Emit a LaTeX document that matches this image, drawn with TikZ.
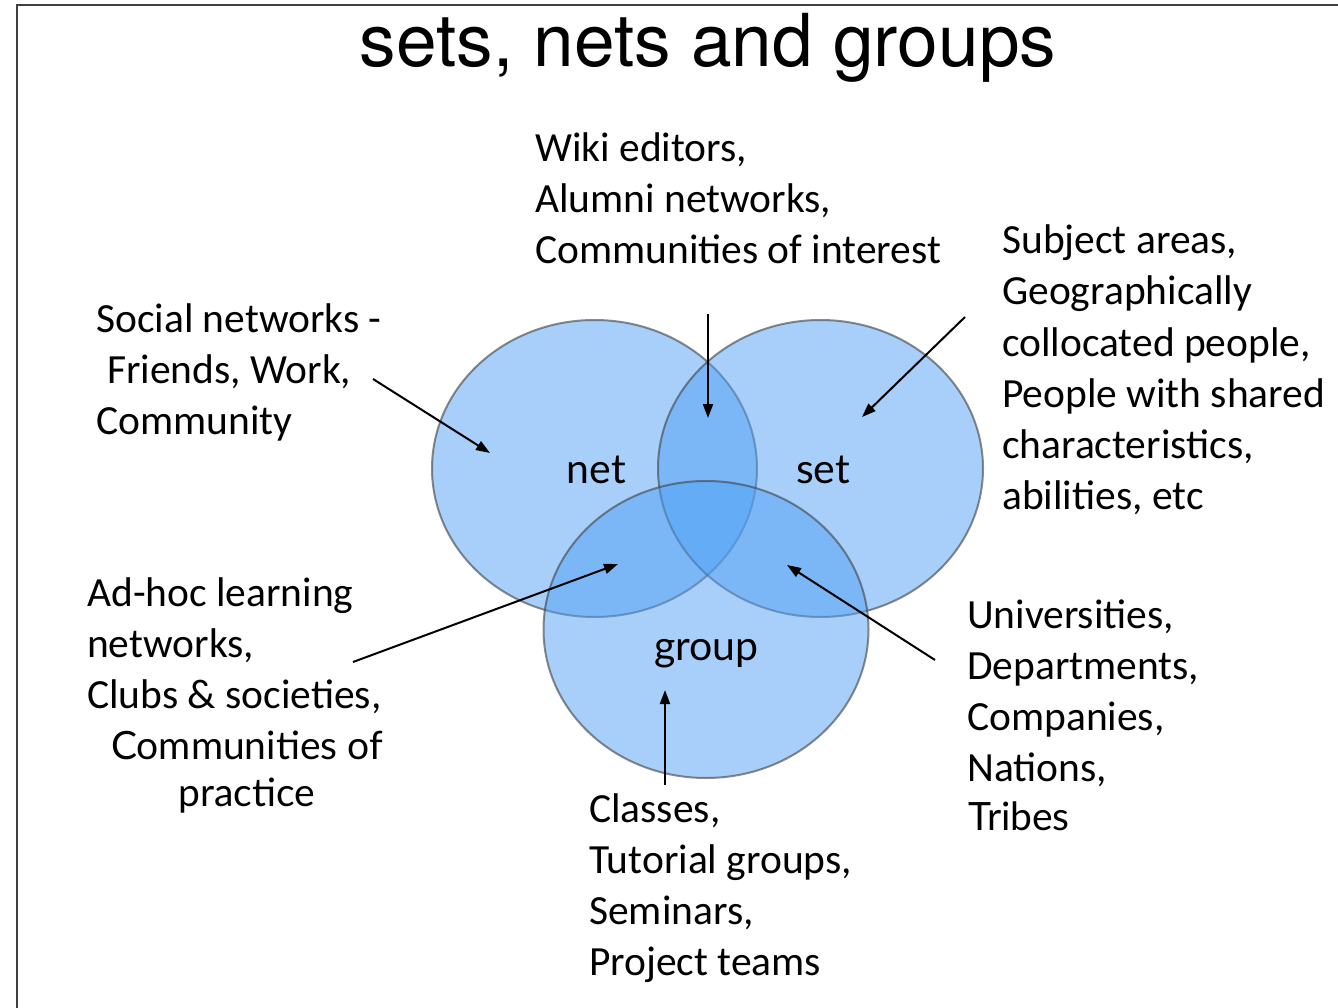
\documentclass[tikz,border=0pt]{standalone}
\usepackage{fontspec}
\setmainfont{Carlito}
\newfontfamily\gillfont{Lato}
\newfontfamily\titlefont{TeX Gyre Heros}
\usetikzlibrary{arrows.meta,shapes.geometric}
\definecolor{vennblue}{RGB}{80,160,245}

\begin{document}
\begin{tikzpicture}[x=1pt,y=-1pt]
	\tikzstyle{venn}=[ellipse,minimum width=325,minimum height=297,inner sep=0pt,
		fill=vennblue,fill opacity=0.5,draw=black!75,draw opacity=0.6,line width=2pt]
	\tikzstyle{setname}=[anchor=base,inner sep=0pt,font=\gillfont\fontsize{41}{49}\selectfont]
	\tikzstyle{blurb}=[anchor=base west,inner sep=0pt,font=\fontsize{41.5}{51}\selectfont]
	\tikzstyle{gillblurb}=[anchor=base,inner sep=0pt,font=\gillfont\fontsize{39}{47}\selectfont]
	\tikzstyle{pointer}=[-{Triangle[length=14pt,width=10pt]},line width=2pt,shorten >=0pt]

	\useasboundingbox (0,0) rectangle (1338,1008);

	% Slide frame
	\draw[line width=2pt,black!75] (16.5,1012) -- (16.5,5.5) -- (1342,5.5);

	% Title
	\node[anchor=base,inner sep=0pt,font=\titlefont\fontsize{73}{73}\selectfont] (title)
		at (708,67) {sets, nets and groups};

	% Draw the three sets
	\node[venn] (net) at (594.5,468.5) {};
	\node[venn] (set) at (820.5,468.5) {};
	\node[venn] (group) at (706,629.5) {};
	\node[setname] (net-name) at (596.5,483) {net};
	\node[setname] (set-name) at (823,483) {set};
	\node[setname] (group-name) at (706.5,660) {group};

	% Top examples
	\foreach \line [count=\i from 0] in {{Wiki editors,},{Alumni networks,},{Communities of interest}}
	\node[blurb] (wiki-\i) at (535,162+51*\i) {\line};

	% Left examples
	\foreach \x/\line [count=\i from 0] in {96/{Social networks -},107/{Friends, Work,},96/{Community}}
	\node[blurb] (social-\i) at (\x,332+51*\i) {\line};

	% Right examples
	\foreach \line [count=\i from 0] in {{Subject areas,},{Geographically},{collocated people,},
		{People with shared},{characteristics,},{abilities, etc}}
	\node[blurb] (subject-\i) at (1002,254+51*\i) {\line};

	% Lower left examples
	\foreach \line [count=\i from 0] in {{Ad-hoc learning},{networks,},{Clubs \& societies,}}
	\node[blurb] (adhoc-\i) at (87,606+51*\i) {\line};
	\node[gillblurb] (adhoc-3) at (247,759) {Communities of};
	\node[gillblurb] (adhoc-4) at (247,806) {practice};

	% Lower right examples
	\foreach \line [count=\i from 0] in {{Universities,},{Departments,},{Companies,},{Nations,}}
	\node[blurb] (univ-\i) at (967,628+51*\i) {\line};
	\node[blurb,font=\gillfont\fontsize{39}{47}\selectfont] (univ-4) at (968,830) {Tribes};

	% Bottom examples
	\foreach \line [count=\i from 0] in {{Classes,},{Tutorial groups,},{Seminars,},{Project teams}}
	\node[blurb] (class-\i) at (589,822+51*\i) {\line};

	% Arrow ends
	\coordinate (social-from) at (373,379);
	\coordinate (social-to) at (490,453);
	\coordinate (wiki-from) at (708,314);
	\coordinate (wiki-to) at (708,418);
	\coordinate (subject-from) at (965,317);
	\coordinate (subject-to) at (862,417);
	\coordinate (adhoc-from) at (353,662);
	\coordinate (adhoc-to) at (618,564);
	\coordinate (univ-from) at (935,660);
	\coordinate (univ-to) at (787,565);
	\coordinate (class-from) at (665,785);
	\coordinate (class-to) at (665,690);

	% Connect examples and regions
	\foreach \name in {social,wiki,subject,adhoc,univ,class}
	\draw[pointer] (\name-from) -- (\name-to);
\end{tikzpicture}
\end{document}
